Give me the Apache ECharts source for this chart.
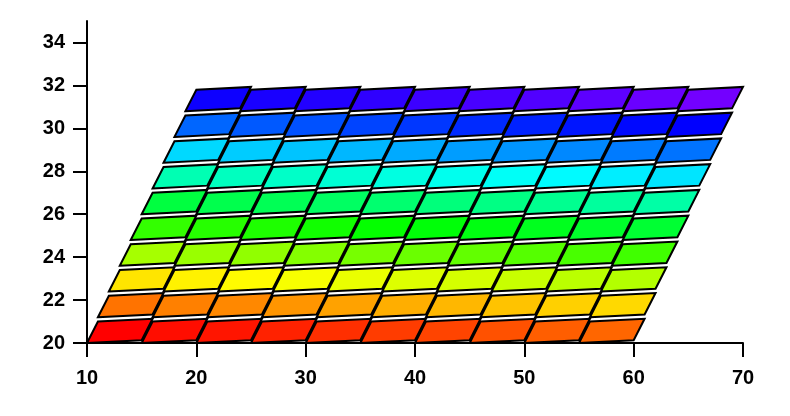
<!DOCTYPE html>
<html>
<head>
<meta charset="utf-8">
<script src="https://cdn.jsdelivr.net/npm/echarts@6/dist/echarts.min.js"></script>
<style>html,body{margin:0;padding:0;background:#fff}#c{width:790px;height:416px}</style>
</head>
<body>
<div id="c"></div>
<script>
// Column start (x of bottom-left corner in the bottom row)
const colStart = [10, 15, 20, 25, 30, 35, 40, 45, 50, 55];
// Row base y and row x-shift
const rowBase = [20, 21.2, 22.4, 23.6, 24.8, 26, 27.2, 28.4, 29.6, 30.8];
const rowShift = [0, 1, 2, 3, 4, 5, 6, 7, 8, 9];
// Hue (degrees) read for each cell, row by row (bottom to top), left to right
const hueRows = [
  [0, 3, 5, 8, 11, 14, 16, 19, 22, 24],
  [27, 30, 32, 35, 38, 41, 43, 46, 49, 51],
  [54, 57, 59, 62, 65, 68, 70, 73, 76, 78],
  [81, 84, 86, 89, 92, 95, 97, 100, 103, 105],
  [108, 111, 113, 116, 119, 122, 124, 127, 130, 132],
  [135, 138, 140, 143, 146, 149, 151, 154, 157, 159],
  [162, 165, 167, 170, 173, 176, 178, 181, 184, 186],
  [189, 192, 194, 197, 200, 203, 205, 208, 211, 213],
  [216, 219, 221, 224, 227, 230, 232, 235, 238, 240],
  [243, 246, 248, 251, 254, 257, 259, 262, 265, 267]
];
const xTicks = [10, 20, 30, 40, 50, 60, 70];
const yTicks = [20, 22, 24, 26, 28, 30, 32, 34];

const data = [];
for (let j = 0; j < rowBase.length; j++) {
  for (let i = 0; i < colStart.length; i++) {
    data.push([colStart[i] + rowShift[j], rowBase[j], hueRows[j][i]]);
  }
}

const CELL_W = 5, CELL_H = 1, SKEW = 1, TILT = 0.13;

const chart = echarts.init(document.getElementById('c'), null, {renderer: 'canvas'});
const labelStyle = {color: '#000', fontSize: 20, fontWeight: 'bold', fontFamily: 'Liberation Sans, Arial, sans-serif'};
chart.setOption({
  animation: false,
  grid: {left: 87, right: 47, top: 21, bottom: 73},
  visualMap: {
    show: false, type: 'continuous', dimension: 2, min: 0, max: 300,
    inRange: {color: ['#ff0000', '#ffff00', '#00ff00', '#00ffff', '#0000ff', '#ff00ff']}
  },
  xAxis: {
    type: 'value', min: 10, max: 70, interval: 10,
    splitLine: {show: false},
    axisLine: {lineStyle: {color: '#000', width: 2}},
    axisTick: {length: 14, lineStyle: {color: '#000', width: 2}, customValues: xTicks},
    axisLabel: Object.assign({margin: 25, customValues: xTicks}, labelStyle)
  },
  yAxis: {
    type: 'value', min: 20, max: 35, interval: 2,
    splitLine: {show: false},
    axisLine: {show: true, lineStyle: {color: '#000', width: 2}},
    axisTick: {show: true, length: 14, lineStyle: {color: '#000', width: 2}, customValues: yTicks},
    axisLabel: Object.assign({margin: 22, customValues: yTicks}, labelStyle)
  },
  series: [{
    type: 'custom',
    data: data,
    encode: {x: 0, y: 1},
    renderItem: function (params, api) {
      const x0 = api.value(0), y0 = api.value(1);
      const pts = [
        [x0, y0],
        [x0 + CELL_W, y0 + TILT],
        [x0 + CELL_W + SKEW, y0 + CELL_H + TILT],
        [x0 + SKEW, y0 + CELL_H]
      ].map(p => api.coord(p));
      return {
        type: 'polygon',
        shape: {points: pts},
        style: {fill: api.visual('color'), stroke: '#000', lineWidth: 2, lineJoin: 'miter'}
      };
    }
  }]
});
</script>
</body>
</html>
